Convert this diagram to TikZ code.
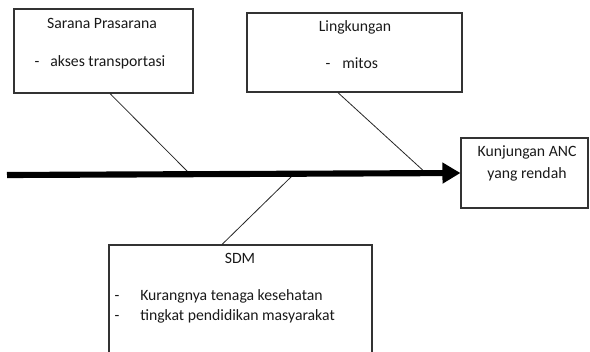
\documentclass[tikz,border=0pt]{standalone}
\usepackage{fontspec}
\setmainfont{Carlito}
\usetikzlibrary{arrows.meta,calc}
\begin{document}
\begin{tikzpicture}[x=0.75pt,y=-0.75pt,
  box/.style={draw=black!80,line width=0.8pt,inner sep=0pt},
  txt/.style={font=\fontsize{11.8}{13}\selectfont,inner sep=0pt,text=black!90,text height=1.6ex,text depth=0.4ex},
  branch/.style={draw=black!85,line width=0.6pt},
  spine/.style={line width=4.6pt,-{Triangle[length=13.5pt,width=15pt]}}]
\useasboundingbox (0,0) rectangle (590,351);
\clip (0,0) rectangle (590,351);
% boxes
\node[box,minimum width=179*0.75pt,minimum height=84*0.75pt] (b1) at (103.5,51) {};
\node[box,minimum width=215*0.75pt,minimum height=79*0.75pt] (b2) at (354.5,52.5) {};
\node[box,minimum width=127*0.75pt,minimum height=70*0.75pt] (res) at (524.5,173) {};
\node[box,minimum width=263*0.75pt,minimum height=140*0.75pt] (b3) at (240.5,315) {};
% texts
\node[txt] (t1) at (102,25) {Sarana Prasarana};
\node[txt] (d1) at (37,63) {-};
\node[txt,anchor=west] (t1a) at (50,63) {akses transportasi};
\node[txt] (t2) at (355,28) {Lingkungan};
\node[txt] (d2) at (328,65) {-};
\node[txt,anchor=west] (t2a) at (342,65) {mitos};
\node[txt] (r1) at (527,153) {Kunjungan ANC};
\node[txt] (r2) at (527,175) {yang rendah};
\node[txt] (t3) at (240,260) {SDM};
\node[txt] (d3a) at (117,297) {-};
\node[txt,anchor=west] (t3a) at (140,297) {Kurangnya tenaga kesehatan};
\node[txt] (d3b) at (117,317) {-};
\node[txt,anchor=west] (t3b) at (140,317) {tingkat pendidikan masyarakat};
% spine
\coordinate (tail) at (7,175);
\coordinate (j1) at (190,174);
\coordinate (j2) at (427,174);
\coordinate (j3) at (292,176);
% branches
\draw[branch] ($(b1.south west)!0.536!(b1.south east)$) -- (j1);
\draw[branch] ($(b2.south west)!0.423!(b2.south east)$) -- (j2);
\draw[branch] (j3) -- ($(b3.north west)!0.43!(b3.north east)$);
\draw[spine] (tail) -- (res.west);
\end{tikzpicture}
\end{document}
